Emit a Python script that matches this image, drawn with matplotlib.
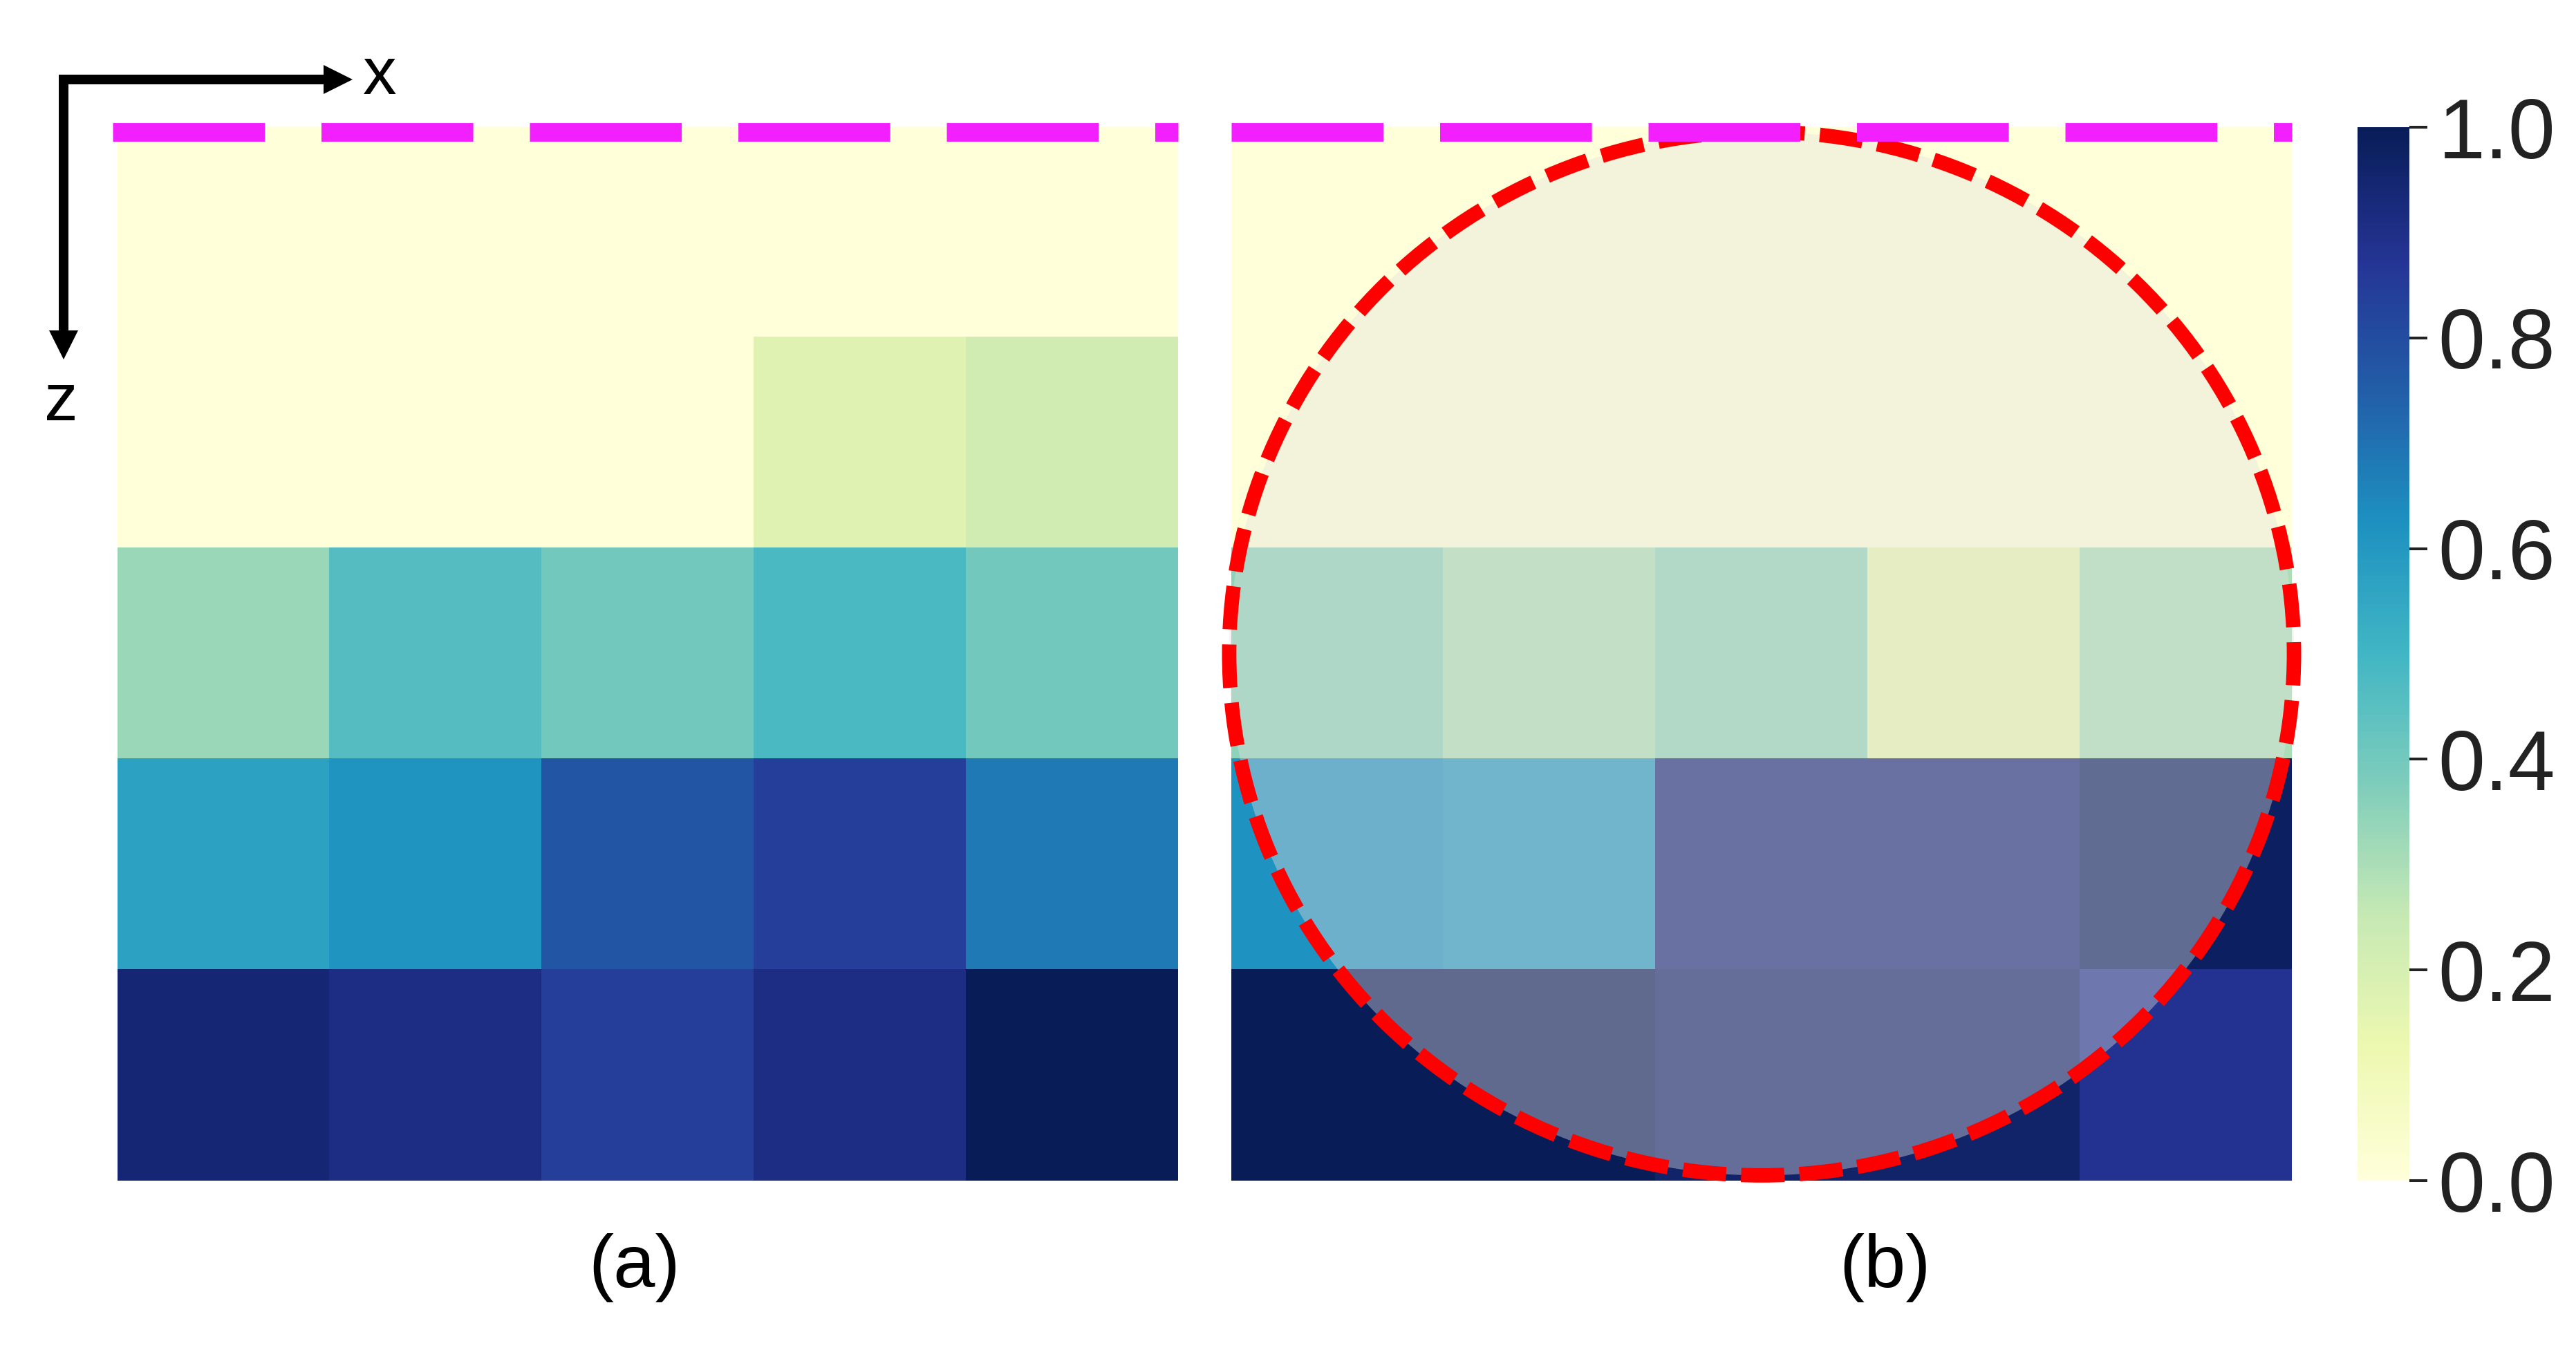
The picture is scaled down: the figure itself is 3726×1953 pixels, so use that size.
import matplotlib
matplotlib.use('Agg')
import matplotlib.pyplot as plt
from matplotlib.patches import Ellipse, FancyArrow
import numpy as np

plt.rcParams['font.family'] = ['Liberation Sans', 'DejaVu Sans']

# --- data ---
panel_a = [
    [0.00, 0.00, 0.00, 0.00, 0.00],
    [0.00, 0.00, 0.00, 0.17, 0.22],
    [0.33, 0.46, 0.40, 0.48, 0.40],
    [0.57, 0.61, 0.77, 0.84, 0.68],
    [0.94, 0.91, 0.84, 0.91, 1.00],
]
panel_b = [
    [0.00, 0.00, 0.00, 0.00, 0.00],
    [0.00, 0.00, 0.00, 0.00, 0.00],
    [0.35, 0.29, 0.34, 0.13, 0.30],
    [0.62, 0.59, 0.93, 0.93, 0.98],
    [1.00, 1.00, 0.96, 0.96, 0.88],
]
panel_labels = ['(a)', '(b)']
cbar_ticks = [0.0, 0.2, 0.4, 0.6, 0.8, 1.0]

W, H = 3726, 1953
fig = plt.figure(figsize=(W / 100, H / 100), dpi=100, facecolor='white')

def frac(x0, y0, x1, y1):
    # pixel box -> figure fraction
    return [x0 / W, 1 - y1 / H, (x1 - x0) / W, (y1 - y0) / H]

ax_a = fig.add_axes(frac(170, 183, 1704, 1708))
ax_b = fig.add_axes(frac(1781, 183, 3315, 1708))
cax = fig.add_axes(frac(3410, 184, 3485, 1708))

magenta = '#F220FF'
for ax, data, x_start in [(ax_a, panel_a, -0.023), (ax_b, panel_b, 0.0)]:
    arr = np.array(data)
    im = ax.imshow(arr, cmap='YlGnBu', vmin=0, vmax=1, aspect='auto',
                   interpolation='nearest', extent=(0, arr.shape[1], arr.shape[0], 0))
    ax.set_xlim(0, arr.shape[1])
    ax.set_ylim(arr.shape[0], 0)
    ax.axis('off')
    # magenta dashed line along the top edge
    ax.plot([x_start, arr.shape[1]], [0.026, 0.026], color=magenta, lw=19.4,
            linestyle=(0, (8.15, 3.04)), solid_capstyle='butt', dash_capstyle='butt',
            clip_on=False, zorder=6)

# red dashed circle with translucent fill on panel (b)
ax_b.add_patch(Ellipse((2.5, 2.5), 5.02, 4.95, facecolor='#E3DFE0', edgecolor='none',
                       alpha=0.4, zorder=4, clip_on=False))
ax_b.add_patch(Ellipse((2.5, 2.5), 5.02, 4.95, facecolor='none', edgecolor='#FF0000',
                       lw=15, linestyle=(0, (3.0, 1.05)), zorder=5, clip_on=False))

# colorbar
cb = fig.colorbar(im, cax=cax, ticks=cbar_ticks)
cb.outline.set_visible(False)
cax.tick_params(length=19, width=2.9, color='#222222', labelsize=88,
                labelcolor='#222222', pad=11)

# overlay in pixel coordinates for the axis arrows and panel labels
ov = fig.add_axes([0, 0, 1, 1], zorder=10)
ov.set_xlim(0, W)
ov.set_ylim(H, 0)
ov.axis('off')
ov.patch.set_alpha(0)

ov.add_patch(FancyArrow(85, 115, 510 - 85, 0, width=14, head_width=42,
                        head_length=42, length_includes_head=True,
                        color='black', lw=0))
ov.add_patch(FancyArrow(92, 108, 0, 520 - 108, width=14, head_width=42,
                        head_length=42, length_includes_head=True,
                        color='black', lw=0))
ov.text(549, 136, 'x', ha='center', va='baseline', fontsize=70, color='black')
ov.text(88, 608, 'z', ha='center', va='baseline', fontsize=70, color='black')

ov.text(918, 1862, panel_labels[0], ha='center', va='baseline', fontsize=78, color='black')
ov.text(2726, 1862, panel_labels[1], ha='center', va='baseline', fontsize=78, color='black')

fig.savefig('out.png', dpi=100, facecolor='white')
